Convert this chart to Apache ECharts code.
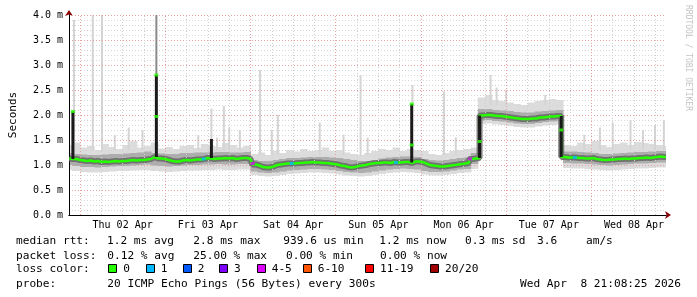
<!DOCTYPE html>
<html><head><meta charset="utf-8">
<script src="https://cdn.jsdelivr.net/npm/echarts@6/dist/echarts.min.js"></script>
<style>html,body{margin:0;padding:0;background:#fff}#c{width:697px;height:297px}</style>
</head><body><div id="c"></div>
<script>
// ---------- DATA (hours relative to Thu 02 Apr 00:00, values in ms) ----------
const dayLabels = ['Thu 02 Apr','Fri 03 Apr','Sat 04 Apr','Sun 05 Apr','Mon 06 Apr','Tue 07 Apr','Wed 08 Apr'];
const dayLabelHours = [12, 36, 60, 84, 108, 132, 156];

// hourly median rtt, starting at hour -3
const medianStartHour = -3;
const median = [
  1.13,1.12,1.12,
  1.10,1.09,1.08,1.09,1.07,1.08,1.06,1.07,1.06,1.07,1.08,1.07,
  1.08,1.08,1.09,1.10,1.09,1.10,1.10,1.11,1.12,1.16,1.13,1.13,
  1.12,1.10,1.08,1.07,1.07,1.09,1.10,1.09,1.10,1.11,1.11,1.12,
  1.14,1.13,1.12,1.13,1.13,1.14,1.13,1.14,1.12,1.13,1.14,1.14,
  1.12,1.01,0.99,0.96,0.95,0.95,0.97,1.00,1.01,1.02,1.03,1.03,
  1.03,1.04,1.04,1.05,1.05,1.06,1.05,1.05,1.04,1.04,1.03,1.02,
  1.01,0.99,0.98,0.96,0.95,0.96,0.98,0.99,1.00,1.02,1.03,1.04,
  1.04,1.05,1.05,1.04,1.06,1.05,1.05,1.06,1.06,1.04,1.07,1.07,
  1.06,1.03,1.00,0.99,0.98,0.97,0.97,0.98,0.99,1.00,1.01,1.02,
  1.03,1.04,1.12,1.13,1.14,1.99,2.00,2.00,1.99,1.98,1.98,1.97,
  1.96,1.95,1.94,1.93,1.92,1.92,1.92,1.93,1.93,1.95,1.95,1.96,
  1.97,1.97,1.98,1.98,1.16,1.15,1.15,1.15,1.14,1.14,1.13,1.13,
  1.14,1.12,1.11,1.10,1.10,1.11,1.11,1.12,1.12,1.13,1.12,1.13,
  1.13,1.14,1.14,1.15,1.14,1.15,1.16,1.17,1.16,1.16
];

// smoke envelope every 2 hours starting at hour -3
const smokeStartHour = -3;
const smokeStepHours = 2;
const smokeOuterLo = [
  0.90,0.88,0.86,0.85,0.85,0.86,0.87,0.88,0.88,0.89,0.90,0.90,0.88,0.87,0.86,0.87,0.88,0.89,0.89,0.90,0.90,0.91,0.90,0.90,0.91,0.91,
  0.80,0.78,0.77,0.78,0.80,0.82,0.83,0.84,0.85,0.85,0.84,0.83,0.81,0.79,0.78,0.77,0.78,0.80,0.82,0.84,0.85,0.86,0.85,0.84,0.81,0.79,0.79,0.80,0.82,0.84,0.85,
  0.92,
  1.82,1.83,1.81,1.80,1.78,1.76,1.75,1.75,1.77,1.79,1.80,1.81,
  0.94,0.93,0.93,0.92,0.91,0.90,0.89,0.90,0.91,0.92,0.93,0.93,0.94,0.95,0.95
];
const smokeMidLo = [
  1.00,0.98,0.96,0.96,0.95,0.96,0.97,0.98,0.98,0.99,1.00,1.01,0.99,0.98,0.97,0.98,0.99,1.00,1.00,1.01,1.01,1.02,1.01,1.01,1.02,1.02,
  0.87,0.85,0.84,0.85,0.87,0.89,0.90,0.91,0.92,0.92,0.91,0.90,0.88,0.86,0.85,0.84,0.85,0.87,0.89,0.91,0.92,0.93,0.92,0.91,0.88,0.86,0.86,0.87,0.89,0.91,0.92,
  1.02,
  1.89,1.90,1.88,1.87,1.85,1.83,1.82,1.82,1.84,1.86,1.87,1.88,
  1.04,1.03,1.03,1.02,1.01,1.00,0.99,1.00,1.01,1.02,1.03,1.03,1.04,1.05,1.05
];
const smokeMidHi = [
  1.24,1.22,1.21,1.20,1.20,1.21,1.22,1.22,1.23,1.24,1.25,1.27,1.24,1.23,1.22,1.22,1.24,1.24,1.25,1.25,1.25,1.26,1.26,1.25,1.25,1.26,
  1.10,1.08,1.08,1.10,1.12,1.14,1.14,1.15,1.16,1.16,1.16,1.15,1.14,1.12,1.10,1.08,1.08,1.10,1.13,1.15,1.16,1.17,1.17,1.16,1.12,1.10,1.09,1.10,1.12,1.14,1.15,
  1.24,
  2.12,2.12,2.10,2.09,2.08,2.06,2.05,2.05,2.07,2.08,2.09,2.10,
  1.27,1.27,1.26,1.25,1.24,1.22,1.22,1.23,1.24,1.25,1.26,1.26,1.27,1.28,1.28
];
const smokeOuterHi = [
  1.40,1.45,1.35,1.38,1.30,1.42,1.36,1.32,1.40,1.48,1.35,1.38,1.45,1.33,1.36,1.32,1.38,1.40,1.34,1.42,1.38,1.36,1.44,1.40,1.35,1.38,
  1.22,1.25,1.20,1.28,1.24,1.30,1.27,1.32,1.28,1.30,1.35,1.28,1.30,1.25,1.22,1.20,1.24,1.28,1.32,1.30,1.35,1.28,1.32,1.30,1.28,1.22,1.20,1.24,1.28,1.30,1.32,
  1.35,
  2.35,2.40,2.30,2.28,2.25,2.22,2.20,2.25,2.28,2.30,2.32,2.30,
  1.40,1.38,1.45,1.42,1.48,1.40,1.36,1.42,1.45,1.40,1.46,1.44,1.42,1.40,1.38
];

// isolated ping outliers [hour, low, high]
const lightSpikes = [
  [-1.7,1.20,3.90],[3.6,1.30,4.00],[6.2,1.30,4.00],[9.8,1.30,1.60],[13.7,1.30,1.75],[17.6,1.30,1.70],
  [33.3,1.30,1.60],[37.0,1.50,2.13],[38.6,1.30,1.55],[40.5,1.30,2.18],[42.0,1.30,1.75],[45.0,1.30,1.70],
  [50.7,1.20,2.90],[54.0,1.20,1.70],[55.7,1.20,2.00],[67.5,1.20,1.85],[74.2,1.20,1.60],[79.0,1.20,2.80],
  [81.0,1.20,1.55],[93.6,2.20,2.60],[102.5,1.20,2.47],[105.8,1.20,1.55],[115.6,2.20,2.80],[117.3,2.20,2.55],
  [120.0,2.20,2.50],[131.0,2.20,2.40],[142.0,1.30,1.60],[146.4,1.30,1.75],[150.0,1.30,1.85],[155.0,1.30,1.90],
  [158.5,1.30,1.70],[161.9,1.30,1.80],[164.4,1.30,1.90]
];
const greySpikes = [[21.5,2.80,4.00]];
const denseSmoke = [
  [-2.0,1.12,2.07],[21.5,1.16,2.80],[37.0,1.14,1.52],[93.4,1.05,2.22],[112.5,1.14,1.99],[135.5,1.16,1.98]
];
// median marks with loss class index [hour, value, lossIndex]
const medianMarks = [
  [-2.0,2.07,0],[21.5,2.80,0],[21.5,1.97,0],[93.4,2.22,0],[93.4,1.40,0],[112.5,1.47,0],[135.5,1.70,0],
  [34.8,1.12,1],[48.6,1.03,4],[59.6,1.03,1],[89.0,1.05,1],[109.8,1.12,4],[139.3,1.15,1]
];

const lossLabels = ['0','1','2','3','4-5','6-10','11-19','20/20'];
const lossColors = ['#26ff00','#00b8ff','#0059ff','#7e00ff','#dd00ff','#ff5500','#ff0000','#a10000'];

const legendRtt = ['median rtt:','1.2 ms avg','2.8 ms max','939.6 us min','1.2 ms now','0.3 ms sd','3.6','am/s'];
const legendLoss = ['packet loss:','0.12 % avg','25.00 % max','0.00 % min','0.00 % now'];
const legendLossColorTitle = 'loss color:';
const legendProbe = ['probe:','20 ICMP Echo Pings (56 Bytes) every 300s'];
const stampText = 'Wed Apr  8 21:08:25 2026';
const watermark = 'RRDTOOL / TOBI OETIKER';

// ---------- CHART ----------
const X_MIN = -3.1, X_MAX = 165;
const MONO = '"DejaVu Sans Mono", "Liberation Mono", monospace';
const sH = i => smokeStartHour + i * smokeStepHours;
const medianData = median.map((v, i) => [medianStartHour + i, v]);
const outerBandData = smokeOuterLo.map((v, i) => [sH(i), v, smokeOuterHi[i]]);
const midBandData = smokeMidLo.map((v, i) => [sH(i), v, smokeMidHi[i]]);

const vGrid = [];
for (let h = 0; h <= X_MAX; h += 6) {
  vGrid.push({ xAxis: h, lineStyle: h % 24 === 0
    ? { color: '#eaa0a0', type: [1, 2], width: 1 }
    : { color: '#cfcfcf', type: [1, 2], width: 1 } });
}

function vline(color, width) {
  return function (params, api) {
    const p1 = api.coord([api.value(0), api.value(1)]);
    const p2 = api.coord([api.value(0), api.value(2)]);
    return { type: 'line', shape: { x1: p1[0], y1: p1[1], x2: p2[0], y2: p2[1] },
      style: { stroke: color, lineWidth: width } };
  };
}
function band(color) {
  return function (params, api) {
    const h = api.value(0), half = smokeStepHours / 2;
    const p1 = api.coord([h - half, api.value(2)]);
    const p2 = api.coord([h + half, api.value(1)]);
    return { type: 'rect', shape: { x: p1[0], y: p1[1], width: p2[0] - p1[0] + 0.5, height: p2[1] - p1[1] },
      style: { fill: color } };
  };
}

const graphic = [];
function txt(x, y, text, extra) {
  graphic.push({ type: 'text', x: x, y: y, silent: true,
    style: Object.assign({ text: text, font: '11.15px ' + MONO, fill: '#000', textVerticalAlign: 'middle' }, extra || {}) });
}
const rttX = [16, 107, 193.3, 283.3, 379.3, 465, 537, 586];
legendRtt.forEach((t, i) => txt(rttX[i], 241, t));
const lossX = [16, 107.3, 193.3, 286, 380];
legendLoss.forEach((t, i) => txt(lossX[i], 255.7, t));
txt(16, 269.3, legendLossColorTitle);
const boxX = [108.3, 145.7, 182.7, 219, 256.7, 302.7, 365, 430];
lossLabels.forEach((t, i) => {
  graphic.push({ type: 'rect', silent: true,
    shape: { x: Math.round(boxX[i]) + 0.5, y: 264.5, width: 8, height: 8 },
    style: { fill: lossColors[i], stroke: '#000', lineWidth: 1 } });
  txt(boxX[i] + 15, 269.3, t);
});
txt(16, 283.7, legendProbe[0]);
txt(107.3, 283.7, legendProbe[1]);
txt(681, 283.7, stampText, { textAlign: 'right' });
graphic.push({ type: 'text', x: 688, y: 5, rotation: -Math.PI / 2, silent: true,
  style: { text: watermark, font: '8px ' + MONO, fill: '#c4c4c4', textAlign: 'left', textVerticalAlign: 'middle' } });

const option = {
  animation: false,
  backgroundColor: '#fff',
  grid: { left: 66, right: 31, top: 15, bottom: 82, containLabel: false },
  xAxis: [{
    type: 'value', min: X_MIN, max: X_MAX, z: 3,
    axisLine: { show: true, onZero: false, lineStyle: { color: '#000', width: 1 } },
    axisTick: { show: false }, splitLine: { show: false },
    axisLabel: { customValues: dayLabelHours, margin: 5, color: '#000',
      fontFamily: MONO, fontSize: 10,
      formatter: v => { const k = dayLabelHours.indexOf(v); return k >= 0 ? dayLabels[k] : ''; } }
  }, {
    type: 'value', min: X_MIN, max: X_MAX, z: 2, position: 'bottom',
    axisLine: { show: true, onZero: false, symbol: ['none', 'arrow'], symbolSize: [6, 6], symbolOffset: [0, 5],
      lineStyle: { color: '#8b0000', width: 1 } },
    axisTick: { show: false }, axisLabel: { show: false }, splitLine: { show: false }
  }],
  yAxis: [{
    type: 'value', min: 0, max: 4, interval: 0.5, z: 3,
    name: 'Seconds', nameLocation: 'middle', nameRotate: 90, nameGap: 50,
    nameTextStyle: { fontFamily: MONO, fontSize: 11, color: '#000' },
    axisLine: { show: true, onZero: false, lineStyle: { color: '#000', width: 1 } },
    axisTick: { show: false },
    axisLabel: { margin: 6, color: '#000', fontFamily: MONO, fontSize: 10,
      formatter: v => v.toFixed(1) + ' m' },
    splitLine: { show: true, lineStyle: { color: '#eaa0a0', type: [1, 2], width: 1 } },
    minorTick: { show: false, splitNumber: 5 },
    minorSplitLine: { show: true, lineStyle: { color: '#d6d6d6', type: [1, 2], width: 1 } }
  }, {
    type: 'value', min: 0, max: 4, z: 2, position: 'left',
    axisLine: { show: true, onZero: false, symbol: ['none', 'arrow'], symbolSize: [6, 6], symbolOffset: [0, 5],
      lineStyle: { color: '#8b0000', width: 1 } },
    axisTick: { show: false }, axisLabel: { show: false }, splitLine: { show: false }
  }],
  series: [
    { type: 'line', name: 'grid', data: medianData, showSymbol: false, lineStyle: { opacity: 0 },
      silent: true, z: 1,
      markLine: { silent: true, symbol: ['none', 'none'], label: { show: false }, data: vGrid } },
    { type: 'custom', name: 'outer', data: outerBandData, encode: { x: 0, y: [1, 2] },
      renderItem: band('#dcdcdc'), silent: true, z: 2, clip: true },
    { type: 'custom', name: 'spikes', data: lightSpikes, encode: { x: 0, y: [1, 2] },
      renderItem: vline('#d4d4d4', 2), silent: true, z: 2, clip: true },
    { type: 'custom', name: 'mid', data: midBandData, encode: { x: 0, y: [1, 2] },
      renderItem: band('#adadad'), silent: true, z: 3, clip: true },
    { type: 'custom', name: 'greySpikes', data: greySpikes, encode: { x: 0, y: [1, 2] },
      renderItem: vline('#8a8a8a', 2), silent: true, z: 3, clip: true },
    { type: 'line', name: 'core', data: medianData, step: 'middle', showSymbol: false,
      lineStyle: { color: '#666666', width: 6, opacity: 0.85 }, silent: true, z: 4 },
    { type: 'line', name: 'median', data: medianData, step: 'middle', showSymbol: false,
      lineStyle: { color: '#26ff00', width: 2.5 }, silent: true, z: 5 },
    { type: 'custom', name: 'dense', data: denseSmoke, encode: { x: 0, y: [1, 2] },
      renderItem: vline('#1a1a1a', 3), silent: true, z: 6, clip: true },
    { type: 'scatter', name: 'marks', data: medianMarks, symbol: 'rect', symbolSize: [4, 3],
      itemStyle: { color: p => lossColors[p.value[2]] }, silent: true, z: 7 }
  ],
  graphic: graphic
};
const chart = echarts.init(document.getElementById('c'));
chart.setOption(option);
</script>
</body></html>
